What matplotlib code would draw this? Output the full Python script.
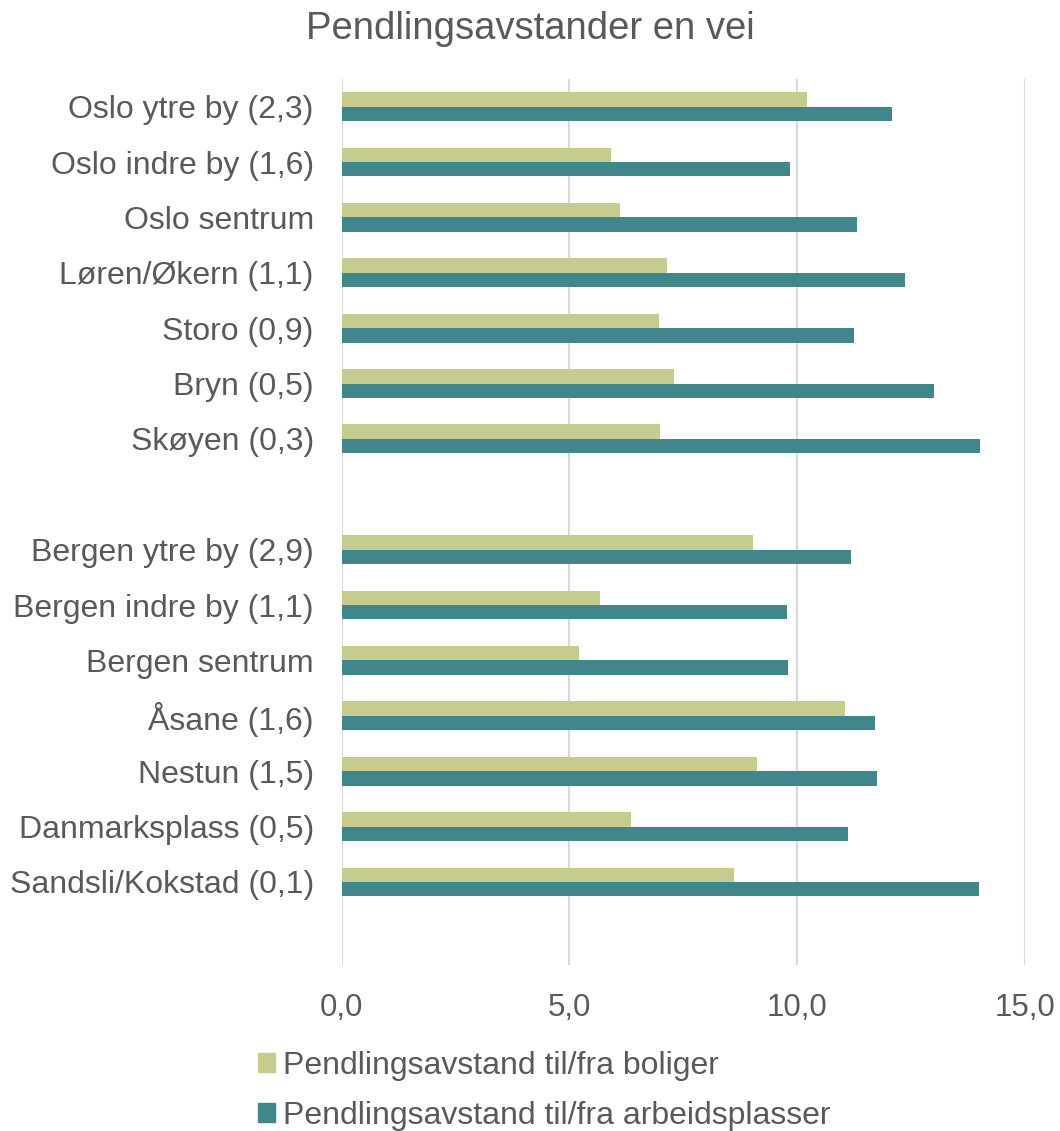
"""Horizontal bar chart of one-way commute distances for Oslo and Bergen areas."""

import matplotlib
matplotlib.use("Agg")
import matplotlib.pyplot as plt
import numpy as np
from matplotlib.patches import Patch

plt.rcParams["font.family"] = ["Liberation Sans", "DejaVu Sans"]

TEXT = "#595959"
LIGHT = "#C6CC8E"
DARK = "#40868A"

categories = [
    "Oslo ytre by (2,3)",
    "Oslo indre by (1,6)",
    "Oslo sentrum",
    "Løren/Økern (1,1)",
    "Storo (0,9)",
    "Bryn (0,5)",
    "Skøyen (0,3)",
    "",
    "Bergen ytre by (2,9)",
    "Bergen indre by (1,1)",
    "Bergen sentrum",
    "Åsane (1,6)",
    "Nestun (1,5)",
    "Danmarksplass (0,5)",
    "Sandsli/Kokstad (0,1)",
    "",
]
boliger = [10.22, 5.92, 6.11, 7.15, 6.97, 7.29, 6.99, np.nan,
           9.03, 5.67, 5.21, 11.05, 9.12, 6.35, 8.62, np.nan]
arbeidsplasser = [12.09, 9.85, 11.32, 12.36, 11.25, 13.01, 14.01, np.nan,
                  11.19, 9.78, 9.80, 11.72, 11.75, 11.11, 14.00, np.nan]
xticks = [0, 5, 10, 15]
xtick_labels = ["0,0", "5,0", "10,0", "15,0"]
labels = ["Pendlingsavstand til/fra boliger",
          "Pendlingsavstand til/fra arbeidsplasser"]


def main():
    fig = plt.figure(figsize=(10.6, 11.31), dpi=100)
    ax = fig.add_axes([0.3223, 0.1468, 0.6445, 0.7834])

    y = np.arange(len(categories))
    h = 0.26
    ax.barh(y - h / 2, boliger, height=h, color=LIGHT, zorder=2)
    ax.barh(y + h / 2, arbeidsplasser, height=h, color=DARK, zorder=2)

    ax.set_xlim(0, 15)
    ax.set_ylim(len(categories) - 0.5, -0.5)
    ax.set_xticks(xticks)
    ax.set_xticklabels(xtick_labels)
    ax.set_yticks(y)
    ax.set_yticklabels(categories)
    ax.tick_params(axis="both", length=0, colors=TEXT)
    ax.tick_params(axis="y", pad=20, labelsize=23)
    ax.tick_params(axis="x", pad=20, labelsize=22.5)
    ax.grid(axis="x", color="#D9D9D9", linewidth=1.5, zorder=0)
    for spine in ax.spines.values():
        spine.set_visible(False)

    fig.text(0.5, 0.974, "Pendlingsavstander en vei", ha="center", va="center",
             fontsize=27.5, color=TEXT)

    handles = [Patch(color=LIGHT), Patch(color=DARK)]
    fig.legend(handles, labels, loc="upper left", bbox_to_anchor=(0.2434, 0.071),
               frameon=False, fontsize=23, labelcolor=TEXT,
               handlelength=0.53, handleheight=0.53, handletextpad=0.25,
               labelspacing=0.64, borderaxespad=0, borderpad=0)

    fig.savefig("out.png", dpi=100)


if __name__ == "__main__":
    main()
